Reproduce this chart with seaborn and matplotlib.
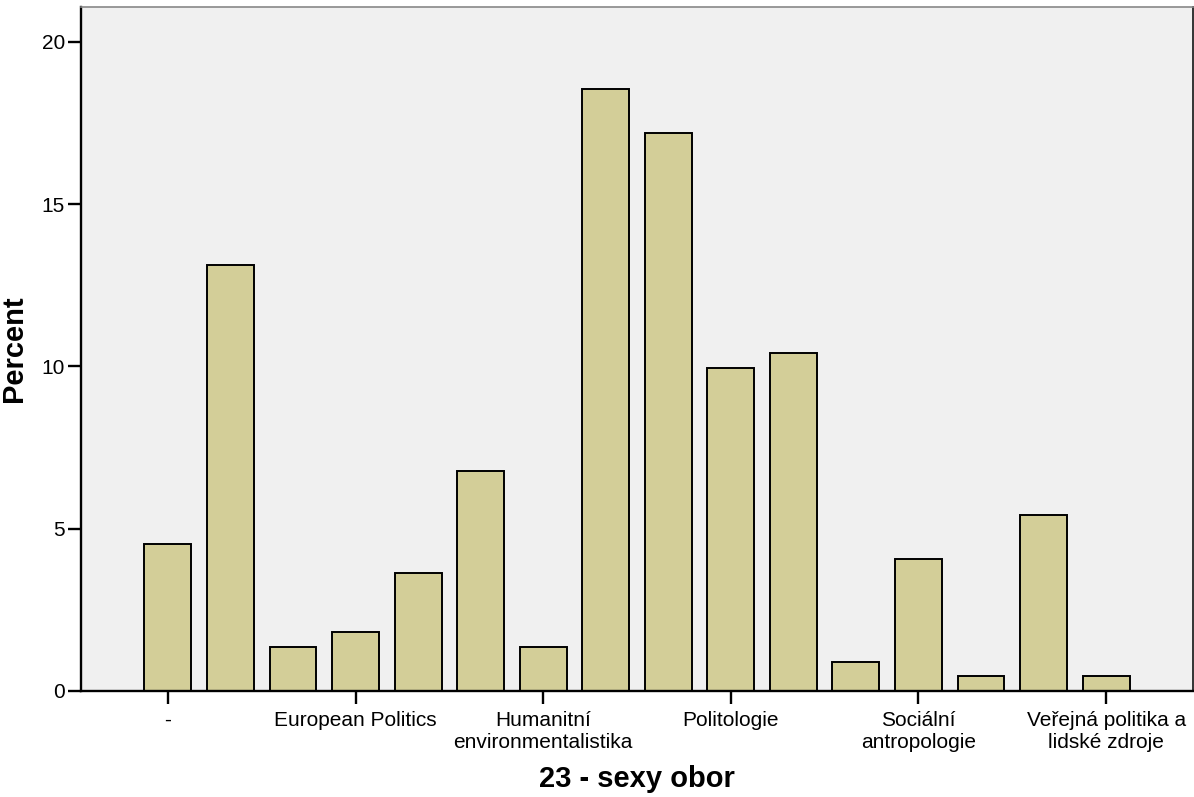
import matplotlib
matplotlib.use("Agg")
import matplotlib.pyplot as plt
import seaborn as sns
import pandas as pd

# Data: percent per field of study (n = 221), 16 categories
category_index = list(range(16))
percent = [4.52, 13.12, 1.36, 1.81, 3.62, 6.79, 1.36, 18.55, 17.19,
           9.95, 10.41, 0.90, 4.07, 0.45, 5.43, 0.45]
# Only every third category is labelled on the axis
tick_positions = [0, 3, 6, 9, 12, 15]
tick_labels = ["-", "European Politics", "Humanitní\nenvironmentalistika",
               "Politologie", "Sociální\nantropologie",
               "Veřejná politika a\nlidské zdroje"]
y_ticks = [0, 5, 10, 15, 20]

sns.set_theme(style="white")
plt.rcParams['font.family'] = ['Liberation Sans', 'DejaVu Sans']
plt.rcParams['text.color'] = 'black'
plt.rcParams['axes.labelcolor'] = 'black'

df = pd.DataFrame({"cat": category_index, "pct": percent})

fig = plt.figure(figsize=(11.94, 7.97), dpi=100)
ax = fig.add_axes([81/1194, 1-691/797, (1193-81)/1194, (691-7)/797])
ax.set_facecolor("#F0F0F0")

sns.barplot(data=df, x="cat", y="pct", order=category_index,
            color="#D3CE98", saturation=1, width=0.75,
            edgecolor="black", linewidth=1.4, ax=ax)

ax.set_xlim(-1.39, 16.39)
ax.set_ylim(0, 21.07)
ax.set_yticks(y_ticks)
ax.set_yticklabels([str(v) for v in y_ticks], fontsize=15)
ax.set_xticks(tick_positions)
ax.set_xticklabels(tick_labels, fontsize=15, linespacing=1.2)

ax.tick_params(axis="both", direction="out", length=9.5, width=1.7,
               color="black", labelcolor="black", bottom=True, left=True)
ax.tick_params(axis="y", pad=2)
ax.tick_params(axis="x", pad=5)

for side in ["left", "bottom"]:
    ax.spines[side].set_color("black")
    ax.spines[side].set_linewidth(1.7)
ax.spines["top"].set_color("#888888")
ax.spines["top"].set_linewidth(1.2)
ax.spines["right"].set_color("#333333")
ax.spines["right"].set_linewidth(1.4)

ax.set_xlabel("23 - sexy obor", fontsize=21, fontweight="bold", labelpad=9,
              color="black")
ax.set_ylabel("Percent", fontsize=21, fontweight="bold", labelpad=10,
              color="black")

fig.savefig("out.png", dpi=100)
